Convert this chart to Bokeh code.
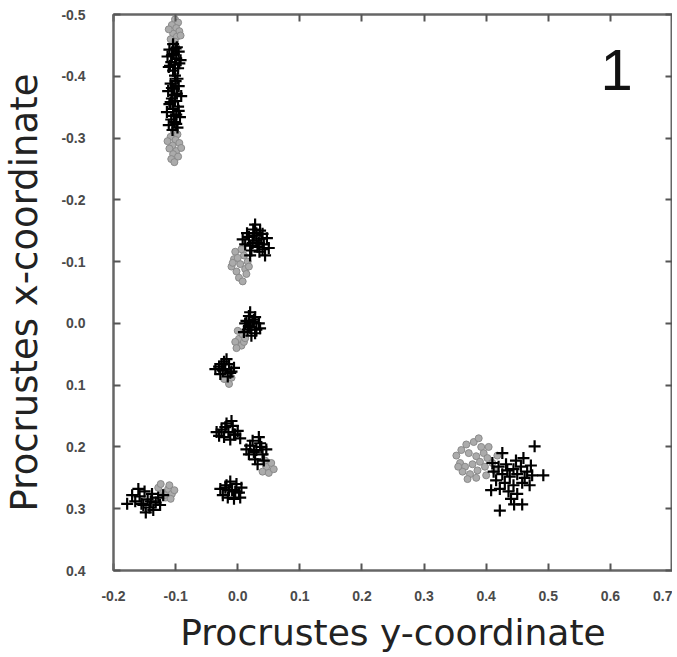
from bokeh.plotting import figure
from bokeh.models import Range1d, LinearAxis, Label, FixedTicker
from bokeh.embed import file_html
from bokeh.resources import INLINE

# ---- data: (Procrustes y-coordinate, Procrustes x-coordinate) ----
# gray circles (reference configuration)
gray_x = [
    # column
    -0.101, -0.096, -0.106, -0.099, -0.094, -0.104, -0.098, -0.108, -0.101,
    -0.103, -0.097, -0.108, -0.100, -0.094, -0.105, -0.110, -0.099, -0.104, -0.096, -0.107, -0.102,
    -0.111, -0.092, -0.113, -0.091,
    # cluster A
    0.004, -0.006, 0.012, -0.002, 0.010, -0.010, 0.016, 0.002, 0.008, -0.004, 0.014, 0.006,
    -0.008, 0.018, 0.000,
    # cluster B
    0.002, 0.008, -0.004, 0.006, 0.000, 0.010, -0.002, 0.012,
    # cluster C
    -0.016, -0.010, -0.022, -0.014,
    # cluster E
    0.046, 0.054, 0.040, 0.050, 0.058, 0.044,
    # cluster G
    -0.120, -0.112, -0.128, -0.116, -0.106, -0.124, -0.110, -0.102, -0.118, -0.108,
    # right cluster
    0.352, 0.360, 0.368, 0.380, 0.388, 0.392, 0.372, 0.384, 0.396, 0.358, 0.366, 0.378, 0.390,
    0.402, 0.362, 0.374, 0.386, 0.398, 0.410, 0.370, 0.384, 0.400, 0.414, 0.355, 0.404, 0.418,
]
gray_y = [
    -0.492, -0.487, -0.483, -0.478, -0.473, -0.469, -0.464, -0.460, -0.456,
    -0.312, -0.306, -0.302, -0.297, -0.292, -0.288, -0.283, -0.279, -0.274, -0.270, -0.266, -0.261,
    -0.476, -0.466, -0.295, -0.284,
    -0.096, -0.104, -0.088, -0.084, -0.110, -0.092, -0.100, -0.074, -0.068, -0.116, -0.080, -0.120,
    -0.098, -0.092, -0.106,
    0.025, 0.018, 0.030, 0.036, 0.012, 0.030, 0.040, 0.024,
    0.092, 0.088, 0.090, 0.098,
    0.232, 0.226, 0.240, 0.242, 0.236, 0.222,
    0.274, 0.268, 0.266, 0.282, 0.276, 0.260, 0.262, 0.270, 0.278, 0.284,
    0.214, 0.205, 0.196, 0.192, 0.186, 0.200, 0.210, 0.215, 0.210, 0.226, 0.232, 0.228, 0.224,
    0.218, 0.240, 0.244, 0.238, 0.232, 0.226, 0.252, 0.250, 0.246, 0.238, 0.232, 0.200, 0.214,
]

# black crosses (fitted configuration)
black_x = [
    # column
    -0.104, -0.098, -0.110, -0.095, -0.103, -0.113, -0.099, -0.092, -0.107, -0.101, -0.111, -0.096,
    -0.104, -0.100, -0.108, -0.095, -0.103, -0.112, -0.098, -0.091, -0.106, -0.101, -0.110, -0.096,
    -0.104, -0.114, -0.099, -0.093, -0.107, -0.102, -0.111, -0.097, -0.105,
    -0.100, -0.106, -0.094, -0.109, -0.097, -0.102, -0.108, -0.095, -0.103, -0.099, -0.106, -0.101,
    # cluster A
    0.030, 0.018, 0.042, 0.025, 0.036, 0.012, 0.047, 0.022, 0.035, 0.028, 0.040, 0.015, 0.032,
    0.050, 0.024, 0.038, 0.020, 0.044, 0.030, 0.008, 0.026, 0.034, 0.040, 0.020,
    # cluster B
    0.021, 0.012, 0.030, 0.018, 0.026, 0.010, 0.034, 0.022, 0.014, 0.028, 0.020, 0.036, 0.016, 0.024,
    0.018, 0.028,
    # cluster C
    -0.020, -0.030, -0.010, -0.022, -0.014, -0.028, -0.016, -0.006, -0.024, -0.036, -0.018,
    -0.012, -0.026,
    # cluster D
    -0.015, -0.026, -0.004, -0.018, -0.008, -0.030, -0.012, 0.000, -0.022, -0.010, 0.004, -0.034,
    -0.020, -0.006,
    # cluster E
    0.030, 0.020, 0.040, 0.024, 0.036, 0.018, 0.042, 0.028, 0.034, 0.046, 0.014, 0.032,
    0.026, 0.038,
    # cluster F
    -0.009, -0.020, 0.002, -0.012, -0.002, -0.024, -0.006, 0.006, -0.016, -0.014, 0.004, -0.028,
    -0.004, -0.018,
    # cluster G
    -0.145, -0.158, -0.132, -0.150, -0.138, -0.165, -0.142, -0.128, -0.152, -0.170, -0.136, -0.160,
    -0.125, -0.148, -0.178, -0.120, -0.140, -0.155,
    # right cluster
    0.410, 0.420, 0.432, 0.444, 0.456, 0.466, 0.472, 0.426, 0.438, 0.450, 0.462, 0.474, 0.416,
    0.430, 0.444, 0.458, 0.470, 0.422, 0.436, 0.450, 0.412, 0.448, 0.460, 0.426, 0.478, 0.492,
    0.422, 0.445, 0.458, 0.440, 0.408, 0.434,
]
black_y = [
    -0.452, -0.447, -0.443, -0.440, -0.436, -0.432, -0.429, -0.426, -0.423, -0.419, -0.415, -0.413,
    -0.409, -0.392, -0.388, -0.384, -0.380, -0.376, -0.372, -0.368, -0.364, -0.360, -0.355, -0.351,
    -0.347, -0.342, -0.338, -0.334, -0.330, -0.326, -0.321, -0.317, -0.313,
    -0.445, -0.434, -0.421, -0.417, -0.396, -0.370, -0.358, -0.344, -0.336, -0.323, -0.381, -0.401,
    -0.134, -0.140, -0.128, -0.152, -0.150, -0.128, -0.138, -0.118, -0.116, -0.160, -0.145, -0.146,
    -0.124, -0.122, -0.130, -0.137, -0.110, -0.110, -0.146, -0.136, -0.142, -0.130, -0.120, -0.126,
    0.006, 0.000, 0.010, -0.012, -0.006, 0.014, 0.000, 0.020, -0.004, 0.016, -0.018, 0.008, 0.010, -0.002,
    0.004, -0.010,
    0.074, 0.070, 0.078, 0.062, 0.066, 0.082, 0.086, 0.072, 0.076, 0.074, 0.058,
    0.080, 0.066,
    0.176, 0.172, 0.180, 0.162, 0.166, 0.182, 0.188, 0.174, 0.184, 0.158, 0.186, 0.176,
    0.168, 0.180,
    0.205, 0.198, 0.212, 0.190, 0.194, 0.212, 0.222, 0.220, 0.184, 0.204, 0.204, 0.228,
    0.208, 0.200,
    0.270, 0.266, 0.274, 0.256, 0.260, 0.278, 0.284, 0.266, 0.282, 0.270, 0.282, 0.268,
    0.272, 0.262,
    0.285, 0.280, 0.290, 0.272, 0.276, 0.288, 0.298, 0.282, 0.294, 0.278, 0.302, 0.268,
    0.294, 0.306, 0.292, 0.278, 0.288, 0.292,
    0.226, 0.232, 0.228, 0.236, 0.232, 0.240, 0.230, 0.244, 0.248, 0.244, 0.250, 0.246, 0.254,
    0.258, 0.262, 0.258, 0.262, 0.268, 0.272, 0.276, 0.240, 0.222, 0.218, 0.210, 0.199, 0.246,
    0.303, 0.293, 0.293, 0.284, 0.270, 0.238,
]

x_ticks = [-0.2, -0.1, 0.0, 0.1, 0.2, 0.3, 0.4, 0.5, 0.6, 0.7]
y_ticks = [-0.5, -0.4, -0.3, -0.2, -0.1, 0.0, 0.1, 0.2, 0.3, 0.4]
panel_label = "1"

TICK_FONT = "Liberation Sans"
LABEL_FONT = "DejaVu Sans"

p = figure(width=672, height=655, output_backend="svg", toolbar_location=None,
           x_range=Range1d(-0.2, 0.7), y_range=Range1d(0.4, -0.5),
           min_border_left=0, min_border_right=0, min_border_top=14, min_border_bottom=0)
p.grid.visible = False
p.outline_line_color = "#666666"
p.outline_line_width = 2
p.background_fill_color = "white"

p.scatter(gray_x, gray_y, marker="circle", size=7, line_color="#8a8a8a",
          fill_color="#ababab", line_width=1)
p.scatter(black_x, black_y, marker="cross", size=12, line_color="black", line_width=2.2)

for ax, ticks in ((p.xaxis[0], x_ticks), (p.yaxis[0], y_ticks)):
    ax.ticker = FixedTicker(ticks=ticks)
    ax.major_tick_in = 7
    ax.major_tick_out = 0
    ax.minor_tick_line_color = None
    ax.axis_line_color = "#666666"
    ax.axis_line_width = 2
    ax.major_tick_line_color = "#555555"
    ax.major_tick_line_width = 2
    ax.major_label_text_font = TICK_FONT
    ax.major_label_text_font_style = "bold"
    ax.major_label_text_font_size = "14px"
    ax.major_label_text_color = "#4a4a4a"
    ax.axis_label_text_font = LABEL_FONT
    ax.axis_label_text_font_style = "normal"
    ax.axis_label_text_color = "#222222"

p.xaxis[0].axis_label_text_font_size = "36px"
p.yaxis[0].axis_label_text_font_size = "37px"
p.xaxis[0].major_label_overrides = {t: ("%.1f" % t) for t in x_ticks}
p.yaxis[0].major_label_overrides = {t: ("%.1f" % t) for t in y_ticks}
p.xaxis[0].axis_label = "Procrustes y-coordinate"
p.yaxis[0].axis_label = "Procrustes x-coordinate"
p.xaxis[0].major_label_standoff = 20
p.yaxis[0].major_label_standoff = 28
p.xaxis[0].axis_label_standoff = 8
p.yaxis[0].axis_label_standoff = 12

for loc, ticks in (("above", x_ticks), ("right", y_ticks)):
    ax = LinearAxis(ticker=FixedTicker(ticks=ticks), major_tick_in=7, major_tick_out=0,
                    minor_tick_line_color=None, axis_line_color="#666666", axis_line_width=2,
                    major_tick_line_color="#555555", major_tick_line_width=2,
                    major_label_overrides={t: "" for t in ticks}, major_label_standoff=0)
    p.add_layout(ax, loc)

p.add_layout(Label(x=0.61, y=-0.41, text=panel_label, text_font=TICK_FONT,
                   text_font_size="58px", text_color="#111111",
                   text_align="center", text_baseline="middle"))

open("out.html", "w").write(file_html(p, INLINE))
